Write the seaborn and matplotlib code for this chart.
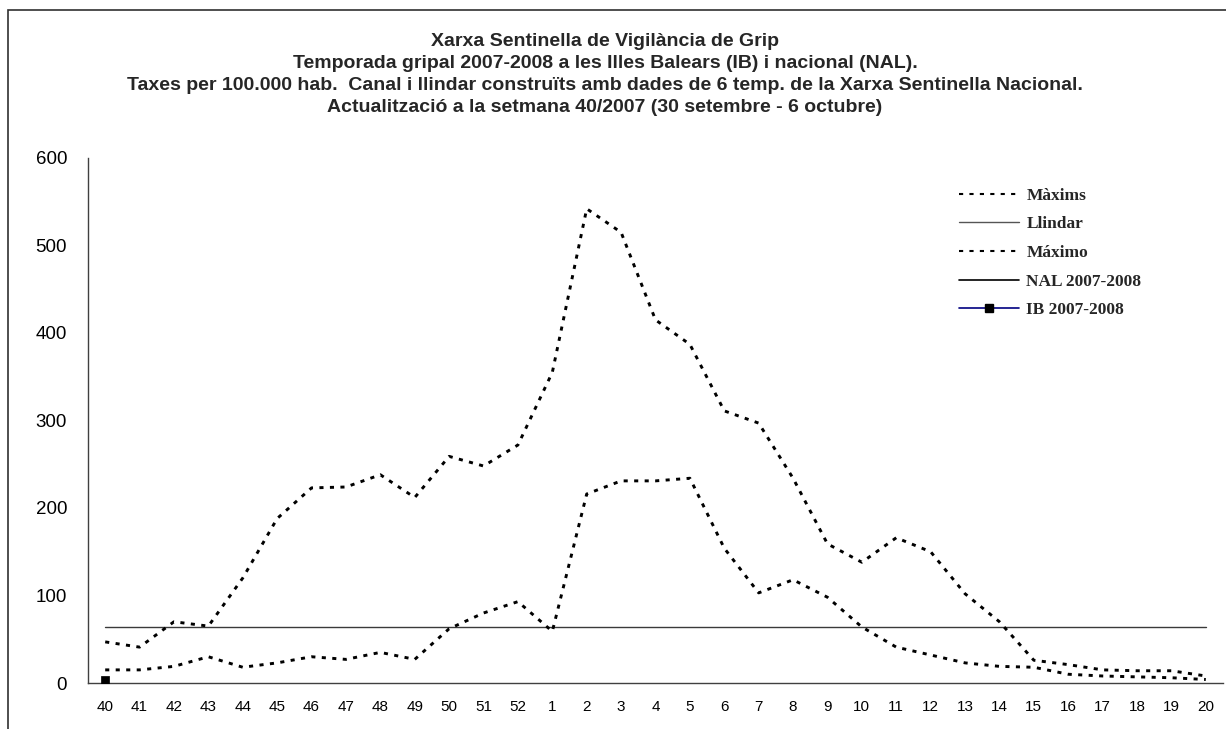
import matplotlib
matplotlib.use("Agg")
import matplotlib.pyplot as plt
from matplotlib.lines import Line2D
from matplotlib.patches import Rectangle
import seaborn as sns
import pandas as pd
import numpy as np

weeks = ["40", "41", "42", "43", "44", "45", "46", "47", "48", "49", "50", "51", "52",
         "1", "2", "3", "4", "5", "6", "7", "8", "9", "10", "11", "12", "13", "14",
         "15", "16", "17", "18", "19", "20"]
maxims = [47, 41, 70, 65, 120, 188, 223, 224, 238, 212, 259, 248, 272,
          355, 542, 515, 415, 387, 311, 297, 234, 159, 138, 166, 150, 102, 70,
          26, 21, 15, 14, 14, 8]
maximo = [15, 15, 19, 30, 18, 23, 30, 27, 35, 27, 62, 80, 93,
          59, 216, 231, 231, 234, 154, 103, 118, 98, 64, 41, 32, 23, 19,
          18, 10, 8, 7, 6, 4]
llindar_value = 64
ib_weeks = ["40"]
ib_values = [4]
yticks = [0, 100, 200, 300, 400, 500, 600]

titles = ["Xarxa Sentinella de Vigilància de Grip",
          "Temporada gripal 2007-2008 a les Illes Balears (IB) i nacional (NAL).",
          "Taxes per 100.000 hab.  Canal i llindar construïts amb dades de 6 temp. de la Xarxa Sentinella Nacional.",
          "Actualització a la setmana 40/2007 (30 setembre - 6 octubre)"]
legend_labels = ["Màxims", "Llindar", "Máximo", "NAL 2007-2008", "IB 2007-2008"]

sns.set_theme(style="white")
plt.rcParams['font.family'] = ['Liberation Sans', 'DejaVu Sans']

idx = list(range(len(weeks)))
df = pd.DataFrame({"x": idx, "maxims": maxims, "maximo": maximo,
                   "llindar": [llindar_value] * len(weeks)})
ib_df = pd.DataFrame({"x": [weeks.index(w) for w in ib_weeks], "y": ib_values})

fig = plt.figure(figsize=(12.26, 7.29), dpi=100)
fig.patch.set_facecolor("white")
ax = fig.add_axes([88 / 1226, 1 - 683 / 729, (1223 - 88) / 1226, (683 - 158) / 729])

dot = (0, (1.4, 2.2))
sns.lineplot(data=df, x="x", y="llindar", ax=ax, color="#3a3a3a", linewidth=1.0)
sns.lineplot(data=df, x="x", y="maxims", ax=ax, color="black", linewidth=2.1, linestyle=dot)
sns.lineplot(data=df, x="x", y="maximo", ax=ax, color="black", linewidth=2.1, linestyle=dot)
sns.scatterplot(data=ib_df, x="x", y="y", ax=ax, color="black", marker="s", s=40,
                edgecolor="black", zorder=5)

ax.set_xlim(-0.5, len(weeks) - 0.5)
ax.set_ylim(0, 600)
ax.set_xticks(idx)
ax.set_xticklabels(weeks, fontsize=11)
ax.set_xticks([i - 0.5 for i in range(len(weeks) + 1)], minor=True)
ax.tick_params(axis="x", which="major", length=0, pad=12)
ax.tick_params(axis="x", which="minor", length=6, width=1, color="#404040", direction="out")
ax.set_yticks(yticks)
ax.set_yticklabels([str(v) for v in yticks], fontsize=13.5)
ax.tick_params(axis="y", which="major", length=6, width=1, color="#404040", direction="out", pad=9)
ax.tick_params(axis="both", colors="#404040", labelcolor="black")
ax.set_xlabel("")
ax.set_ylabel("")
for s in ["top", "right"]:
    ax.spines[s].set_visible(False)
for s in ["left", "bottom"]:
    ax.spines[s].set_color("#404040")
    ax.spines[s].set_linewidth(1.0)
ax.grid(False)

handles = [
    Line2D([], [], color="black", linewidth=1.5, linestyle=(0, (2, 3))),
    Line2D([], [], color="#555555", linewidth=1.0),
    Line2D([], [], color="black", linewidth=1.5, linestyle=(0, (2, 3))),
    Line2D([], [], color="black", linewidth=1.2),
    Line2D([], [], color="#000080", linewidth=1.2, marker="s", markersize=6,
           markerfacecolor="black", markeredgecolor="black"),
]
fig.legend(handles, legend_labels, loc="upper left",
           bbox_to_anchor=(950 / 1226, 1 - 179 / 729), frameon=False,
           prop={"family": "Liberation Serif", "weight": "bold", "size": 12.5},
           handlelength=3.5, handletextpad=0.4, labelspacing=0.72, borderpad=0)

ys = [42, 63, 85, 107]
for t, y in zip(titles, ys):
    fig.text(605 / 1226, 1 - y / 729, t, ha="center", va="center",
             fontsize=14, fontweight="bold")

fig.patches.append(Rectangle((8 / 1226, -0.05), 1.2, 1 - 10 / 729 + 0.05,
                             transform=fig.transFigure, fill=False,
                             edgecolor="#303030", linewidth=1.2))

fig.savefig("out.png", dpi=100, facecolor="white")
